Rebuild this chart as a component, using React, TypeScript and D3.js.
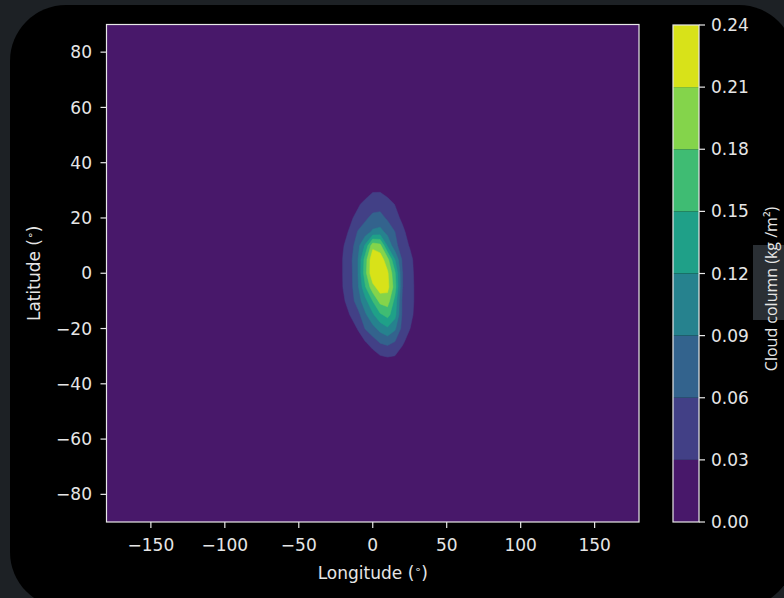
import React from 'react';
import * as d3 from 'd3';

// Grid of cloud column (kg/m^2), 5° spacing, zero elsewhere
const LON = [-25, -20, -15, -10, -5, 0, 5, 10, 15, 20, 25, 30, 35];
const LAT = [35, 30, 25, 20, 15, 10, 5, 0, -5, -10, -15, -20, -25, -30, -35];
const CLOUD = [
  [0, 0, 0, 0, 0, 0, 0, 0, 0, 0, 0, 0, 0],
  [0, 0, 0, 0, 0.012, 0.027, 0.027, 0.017, 0, 0, 0, 0, 0],
  [0, 0, 0.01, 0.025, 0.04, 0.046, 0.048, 0.042, 0.029, 0.01, 0, 0, 0],
  [0, 0.005, 0.025, 0.04, 0.055, 0.068, 0.07, 0.055, 0.04, 0.024, 0.008, 0, 0],
  [0, 0.02, 0.035, 0.062, 0.075, 0.095, 0.1, 0.08, 0.06, 0.037, 0.018, 0, 0],
  [0, 0.028, 0.045, 0.08, 0.125, 0.2, 0.19, 0.115, 0.07, 0.042, 0.028, 0.01, 0],
  [0.005, 0.032, 0.052, 0.09, 0.165, 0.236, 0.228, 0.19, 0.12, 0.055, 0.038, 0.018, 0],
  [0.005, 0.032, 0.05, 0.09, 0.17, 0.236, 0.237, 0.215, 0.155, 0.061, 0.04, 0.02, 0],
  [0.005, 0.031, 0.05, 0.085, 0.148, 0.2, 0.226, 0.22, 0.165, 0.061, 0.04, 0.022, 0],
  [0, 0.025, 0.045, 0.075, 0.11, 0.151, 0.19, 0.195, 0.14, 0.055, 0.04, 0.022, 0],
  [0, 0.015, 0.032, 0.05, 0.085, 0.115, 0.145, 0.16, 0.13, 0.055, 0.038, 0.02, 0],
  [0, 0, 0.015, 0.032, 0.062, 0.08, 0.1, 0.115, 0.095, 0.05, 0.031, 0.01, 0],
  [0, 0, 0, 0.015, 0.028, 0.045, 0.062, 0.068, 0.058, 0.035, 0.015, 0, 0],
  [0, 0, 0, 0, 0.005, 0.015, 0.028, 0.032, 0.029, 0.015, 0, 0, 0],
  [0, 0, 0, 0, 0, 0, 0, 0, 0, 0, 0, 0, 0],
];
const LEVELS = [0, 0.03, 0.06, 0.09, 0.12, 0.15, 0.18, 0.21, 0.24];
const LEVEL_LABELS = ['0.00', '0.03', '0.06', '0.09', '0.12', '0.15', '0.18', '0.21', '0.24'];
const X_TICKS = [-150, -100, -50, 0, 50, 100, 150];
const Y_TICKS = [-80, -60, -40, -20, 0, 20, 40, 60, 80];

const W = 784;
const H = 598;
const FONT = 'DejaVu Sans';
const TXT = '#e6e6e6';
const FS = 17;

const fmt = (v: number) => (v < 0 ? '\u2212' + Math.abs(v) : String(v));

export default function App() {
  const x = d3.scaleLinear().domain([-180, 180]).range([106.5, 639]);
  const y = d3.scaleLinear().domain([-90, 90]).range([522, 24.5]);
  const cb = d3.scaleLinear().domain([0, 0.24]).range([522, 25]);
  const nBands = LEVELS.length - 1;
  const colors = d3.range(nBands).map((i) => d3.interpolateViridis((i + 0.5) / nBands));

  const nx = LON.length;
  const ny = LAT.length;
  const values = CLOUD.flat();
  const contours = d3.contours().size([nx, ny]).thresholds(LEVELS.slice(1, -1))(values);
  const dLon = LON[1] - LON[0];
  const dLat = LAT[1] - LAT[0];
  const proj = d3.geoTransform({
    point(px: number, py: number) {
      (this as any).stream.point(x(LON[0] + (px - 0.5) * dLon), y(LAT[0] + (py - 0.5) * dLat));
    },
  });
  const path = d3.geoPath(proj as any);

  const [x0, x1] = x.range();
  const [y0, y1] = [y(90), y(-90)];
  const cbX = 673;
  const cbW = 26;

  return (
    <svg width={W} height={H} style={{ position: 'absolute', left: 0, top: 0, display: 'block' }}>
      <rect x={0} y={0} width={W} height={H} fill="#1d2125" />
      <rect x={10} y={5} width={785} height={603} rx={56} ry={56} fill="#000" />

      {/* map */}
      <rect x={x0} y={y0} width={x1 - x0} height={y1 - y0} fill={colors[0]} />
      {contours.map((c, i) => (
        <path key={i} d={path(c as any) || ''} fill={colors[i + 1]} stroke={colors[i + 1]} strokeWidth={0.5} />
      ))}
      <rect x={x0} y={y0} width={x1 - x0} height={y1 - y0} fill="none" stroke="#e8e8e8" strokeWidth={1.2} />

      {/* x axis */}
      {X_TICKS.map((t) => (
        <g key={'x' + t}>
          <line x1={x(t)} x2={x(t)} y1={y1} y2={y1 + 6} stroke="#e8e8e8" strokeWidth={1.2} />
          <text x={x(t)} y={551} fill={TXT} fontFamily={FONT} fontSize={FS} textAnchor="middle">
            {fmt(t)}
          </text>
        </g>
      ))}
      <text x={(x0 + x1) / 2} y={579} fill={TXT} fontFamily={FONT} fontSize={FS} textAnchor="middle">
        Longitude (<tspan fontSize={11} dy={-6}>∘</tspan><tspan dy={6}>)</tspan>
      </text>

      {/* y axis */}
      {Y_TICKS.map((t) => (
        <g key={'y' + t}>
          <line x1={x0 - 6} x2={x0} y1={y(t)} y2={y(t)} stroke="#e8e8e8" strokeWidth={1.2} />
          <text x={92} y={y(t)} dy="0.36em" fill={TXT} fontFamily={FONT} fontSize={FS} textAnchor="end">
            {fmt(t)}
          </text>
        </g>
      ))}
      <text
        transform={`translate(40, ${(y0 + y1) / 2}) rotate(-90)`}
        fill={TXT}
        fontFamily={FONT}
        fontSize={FS}
        textAnchor="middle"
      >
        Latitude (<tspan fontSize={11} dy={-6}>∘</tspan><tspan dy={6}>)</tspan>
      </text>

      {/* colorbar */}
      {d3.range(nBands).map((i) => (
        <rect
          key={'cb' + i}
          x={cbX}
          y={cb(LEVELS[i + 1])}
          width={cbW}
          height={cb(LEVELS[i]) - cb(LEVELS[i + 1])}
          fill={colors[i]}
        />
      ))}
      <rect x={cbX} y={cb(0.24)} width={cbW} height={cb(0) - cb(0.24)} fill="none" stroke="#e8e8e8" strokeWidth={1.2} />
      {LEVELS.map((v, i) => (
        <g key={'cbt' + i}>
          <line x1={cbX + cbW} x2={cbX + cbW + 6} y1={cb(v)} y2={cb(v)} stroke="#e8e8e8" strokeWidth={1.2} />
          <text x={711} y={cb(v)} dy="0.36em" fill={TXT} fontFamily={FONT} fontSize={FS}>
            {LEVEL_LABELS[i]}
          </text>
        </g>
      ))}
      <rect x={753} y={245} width={31} height={75} fill="#2a2f34" />
      <text
        transform="translate(777, 289) rotate(-90)"
        fill={TXT}
        fontFamily="Open Sans"
        fontSize={16}
        textAnchor="middle"
      >
        Cloud column (kg /m²)
      </text>
    </svg>
  );
}
